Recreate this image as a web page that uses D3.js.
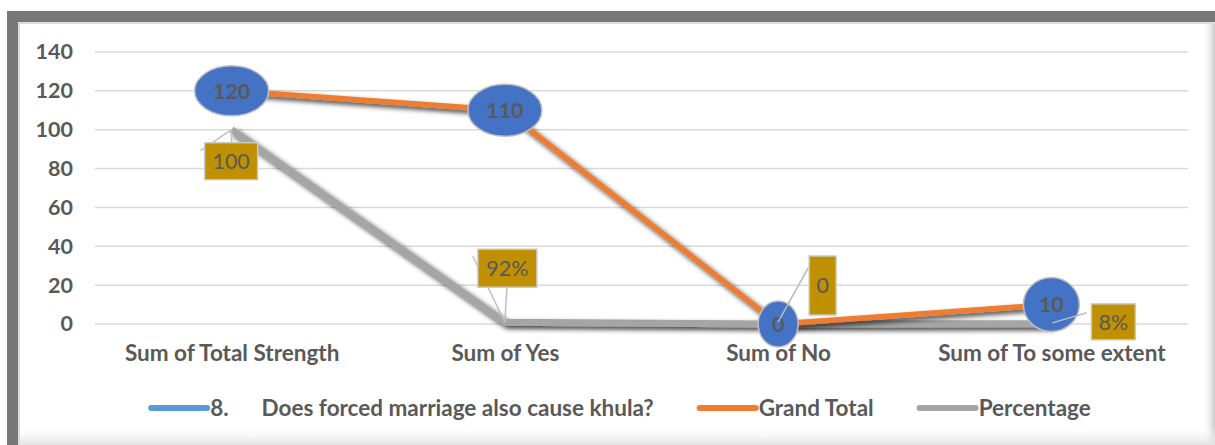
<!DOCTYPE html>
<html><head><meta charset="utf-8">
<script src="https://cdn.jsdelivr.net/npm/d3@7"></script>
<style>html,body{margin:0;padding:0;background:#fff;}svg{display:block;}</style>
</head><body>
<svg id="chart" width="1215" height="445"></svg>
<script>
// ---- data ----
const categories = ["Sum of Total Strength", "Sum of Yes", "Sum of No", "Sum of To some extent"];
const questionValues = [null, null, null, null];
const grandTotal = [120, 110, 0, 10];
const percentage = [100, 0.92, 0, 0.08];
const percentageLabels = ["100", "92%", "0", "8%"];
const yTicks = [0, 20, 40, 60, 80, 100, 120, 140];
const seriesNames = ["8.\tDoes forced marriage also cause khula?", "Grand Total", "Percentage"];

// ---- layout / style ----
const W = 1215, H = 445;
const FONT = "Lato, 'Open Sans', sans-serif";
const TXT = "#595959";
const colors = ["#5b9bd5", "#ed7d31", "#a5a5a5"];
const ellipseShape = [{rx:37,ry:25},{rx:37,ry:26},{rx:20,ry:23},{rx:28,ry:27}];
const boxShape = [{dx:-27,dy:13,w:53,h:37},{dx:-27,dy:-73,w:59,h:38},{dx:31,dy:-68,w:27,h:59},{dx:40,dy:-20,w:44,h:36}];
const leaders = [
  [[0,0,0,13],[0,0,-31,21]],
  [[2,-35,0,0],[-32,-66,0,0]],
  [[0,-2,30,-56]],
  [[1,-1,35,-11]]
];

const svg = d3.select("#chart");
const defs = svg.append("defs");
const sh = defs.append("filter").attr("id","shadow").attr("x","-10%").attr("y","-10%").attr("width","130%").attr("height","140%");
sh.append("feDropShadow").attr("dx",3).attr("dy",3).attr("stdDeviation",2.5).attr("flood-color","#000").attr("flood-opacity",0.75);
const gR = defs.append("linearGradient").attr("id","gr").attr("x1",0).attr("x2",1).attr("y1",0).attr("y2",0);
gR.append("stop").attr("offset",0).attr("stop-color","#fff").attr("stop-opacity",0);
gR.append("stop").attr("offset",1).attr("stop-color","#c8c8c8");
const gB = defs.append("linearGradient").attr("id","gb").attr("x1",0).attr("x2",0).attr("y1",0).attr("y2",1);
gB.append("stop").attr("offset",0).attr("stop-color","#fff").attr("stop-opacity",0);
gB.append("stop").attr("offset",1).attr("stop-color","#e2e2e2");

// frame
svg.append("rect").attr("x",0).attr("y",0).attr("width",W).attr("height",H).attr("fill","#fff");
svg.append("rect").attr("x",7).attr("y",11).attr("width",W-7).attr("height",H-11).attr("fill","#787878");
svg.append("rect").attr("x",18).attr("y",22).attr("width",W-18).attr("height",H-22).attr("fill","#dcdcdc");
svg.append("rect").attr("x",20).attr("y",24).attr("width",W-20).attr("height",H-24).attr("fill","#fff");
svg.append("rect").attr("x",1202).attr("y",24).attr("width",13).attr("height",H-24).attr("fill","url(#gr)");
svg.append("rect").attr("x",20).attr("y",426).attr("width",W-20).attr("height",19).attr("fill","url(#gb)");

// scales
const x = d3.scalePoint().domain(categories).range([95, 1188]).padding(0.5);
const y = d3.scaleLinear().domain([0, 140]).range([324, 52]);

// gridlines
svg.append("g").selectAll("line").data(yTicks).join("line")
  .attr("x1",95).attr("x2",1188).attr("y1",d=>y(d)).attr("y2",d=>y(d))
  .attr("stroke","#d9d9d9").attr("stroke-width",1.5);

// y axis
const yAxis = svg.append("g").attr("transform","translate(73,0)")
  .call(d3.axisLeft(y).tickValues(yTicks).tickSize(0).tickPadding(0));
yAxis.select(".domain").remove();
yAxis.selectAll("text").attr("font-family",FONT).attr("font-weight","bold").attr("font-size",21.5).attr("fill",TXT);

// x axis
const xAxis = svg.append("g").attr("transform","translate(0,361)")
  .call(d3.axisBottom(x).tickSize(0).tickPadding(0));
xAxis.select(".domain").remove();
xAxis.selectAll("text").attr("font-family",FONT).attr("font-weight","bold").attr("font-size",22.5).attr("fill",TXT).attr("dy","0");

const line = d3.line().defined(d=>d.v!=null).x(d=>x(d.c)).y(d=>y(d.v));
const mk = arr => categories.map((c,i)=>({c, v:arr[i]}));

// lines
svg.append("path").datum(mk(questionValues)).attr("d",line).attr("fill","none").attr("stroke",colors[0]).attr("stroke-width",5);
svg.append("path").datum(mk(percentage)).attr("d",line).attr("fill","none").attr("stroke",colors[2]).attr("stroke-width",7).attr("stroke-linejoin","round").attr("filter","url(#shadow)");
svg.append("path").datum(mk(grandTotal)).attr("d",line).attr("fill","none").attr("stroke",colors[1]).attr("stroke-width",5.5).attr("stroke-linejoin","round").attr("filter","url(#shadow)");

// percentage labels (boxes + leader lines)
const pg = svg.append("g");
percentage.forEach((v,i)=>{
  const px = x(categories[i]), py = y(v), b = boxShape[i];
  leaders[i].forEach(l=>{
    pg.append("line").attr("x1",px+l[0]).attr("y1",py+l[1]).attr("x2",px+l[2]).attr("y2",py+l[3])
      .attr("stroke","#bfbfbf").attr("stroke-width",1.5);
  });
  pg.append("rect").attr("x",px+b.dx).attr("y",py+b.dy).attr("width",b.w).attr("height",b.h)
    .attr("fill","#bf9000").attr("stroke","#c9c9c9").attr("stroke-width",1.5);
  pg.append("text").attr("x",px+b.dx+b.w/2).attr("y",py+b.dy+b.h/2).attr("dy","0.36em")
    .attr("text-anchor","middle").attr("font-family",FONT).attr("font-size",21.5).attr("fill",TXT)
    .text(percentageLabels[i]);
});

// grand total labels (ellipses)
const eg = svg.append("g");
grandTotal.forEach((v,i)=>{
  const px = x(categories[i]), py = y(v), e = ellipseShape[i];
  eg.append("ellipse").attr("cx",px).attr("cy",py).attr("rx",e.rx).attr("ry",e.ry)
    .attr("fill","#4472c4").attr("stroke","#bfbfbf").attr("stroke-width",1.5);
  eg.append("text").attr("x",px).attr("y",py).attr("dy","0.36em").attr("text-anchor","middle")
    .attr("font-family",FONT).attr("font-weight","bold").attr("font-size",21.5).attr("fill",TXT).text(v);
});
// leaders drawn over the ellipses
[2,3].forEach(i=>{
  const px = x(categories[i]), py = y(percentage[i]);
  leaders[i].forEach(l=>{
    eg.append("line").attr("x1",px+l[0]).attr("y1",py+l[1]).attr("x2",px+l[2]).attr("y2",py+l[3])
      .attr("stroke","#bfbfbf").attr("stroke-width",1.5);
  });
});

// legend
const lg = svg.append("g");
const ly = 408, sw = 56, gapT = 3, gapItem = 46, tabW = 33;
const items = [];
seriesNames.forEach((name,i)=>{
  const g = lg.append("g");
  g.append("line").attr("x1",0).attr("x2",sw).attr("y1",ly).attr("y2",ly)
    .attr("stroke",colors[i]).attr("stroke-width",6).attr("stroke-linecap","round");
  const parts = name.split("\t");
  let cx = sw + gapT;
  parts.forEach((p,k)=>{
    const t = g.append("text").attr("x",cx).attr("y",ly).attr("dy","0.36em")
      .attr("font-family",FONT).attr("font-weight","bold").attr("font-size",22.5).attr("fill",TXT).text(p);
    const w = t.node().getComputedTextLength();
    cx += w + (k < parts.length-1 ? tabW : 0);
  });
  items.push({g, w: cx});
});
const total = d3.sum(items, d=>d.w) + gapItem*(items.length-1);
let sx = 621 - total/2;
items.forEach(it=>{ it.g.attr("transform",`translate(${sx},0)`); sx += it.w + gapItem; });
</script>
</body></html>
